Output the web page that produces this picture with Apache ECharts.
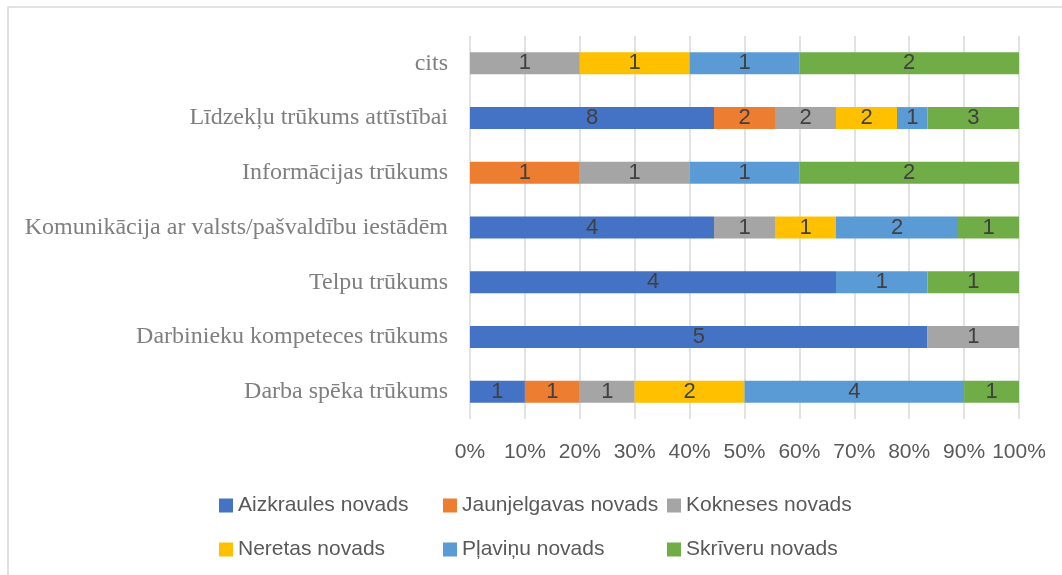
<!DOCTYPE html>
<html>
<head>
<meta charset="utf-8">
<script src="https://cdn.jsdelivr.net/npm/echarts@6/dist/echarts.min.js"></script>
<style>
  html, body { margin: 0; padding: 0; background: #fff; }
  #chart { width: 1062px; height: 575px; }
</style>
</head>
<body>
<div id="chart"></div>
<script>
// categories, bottom to top
const categories = [
  'Darba spēka trūkums',
  'Darbinieku kompeteces trūkums',
  'Telpu trūkums',
  'Komunikācija ar valsts/pašvaldību iestādēm',
  'Informācijas trūkums',
  'Līdzekļu trūkums attīstībai',
  'cits'
];

// counts per novads (same order as categories)
const aizkraules = [1, 5, 4, 4, 0, 8, 0];
const jaunjelgavas = [1, 0, 0, 0, 1, 2, 0];
const kokneses = [1, 1, 0, 1, 1, 2, 1];
const neretas = [2, 0, 0, 1, 0, 2, 1];
const plavinu = [4, 0, 1, 2, 1, 1, 1];
const skriveru = [1, 0, 1, 1, 2, 3, 2];

const seriesNames = ['Aizkraules novads', 'Jaunjelgavas novads', 'Kokneses novads',
  'Neretas novads', 'Pļaviņu novads', 'Skrīveru novads'];
const seriesCounts = [aizkraules, jaunjelgavas, kokneses, neretas, plavinu, skriveru];
const colors = ['#4472C4', '#ED7D31', '#A5A5A5', '#FFC000', '#5B9BD5', '#70AD47'];

const xTicks = [0, 10, 20, 30, 40, 50, 60, 70, 80, 90, 100];

// row totals for the 100% stack
const totals = categories.map((c, i) => seriesCounts.reduce((s, arr) => s + arr[i], 0));

const chart = echarts.init(document.getElementById('chart'));

const series = seriesNames.map((name, k) => ({
  name: name,
  type: 'bar',
  stack: 'total',
  barWidth: 22,
  itemStyle: { color: colors[k] },
  label: {
    show: true,
    position: 'inside',
    color: '#404040',
    fontFamily: 'Liberation Sans',
    fontSize: 22,
    formatter: (p) => {
      const n = seriesCounts[k][p.dataIndex];
      return n ? String(n) : '';
    }
  },
  data: seriesCounts[k].map((n, i) => n / totals[i] * 100)
}));

// legend laid out as 3 columns x 2 rows
const legendCols = [214, 438, 662];
const legends = legendCols.map((x, c) => ({
  data: [seriesNames[c], seriesNames[c + 3]],
  orient: 'vertical',
  left: x,
  top: 490,
  icon: 'rect',
  itemWidth: 14,
  itemHeight: 14,
  itemGap: 23,
  textStyle: {
    fontFamily: 'Liberation Sans',
    fontSize: 21,
    color: '#595959'
  }
}));

chart.setOption({
  animation: false,
  color: colors,
  graphic: [{
    type: 'rect',
    shape: { x: 8, y: 7, width: 1100, height: 620 },
    style: { fill: 'none', stroke: '#d9d9d9', lineWidth: 1.5 },
    silent: true
  }],
  grid: { left: 470, right: 43, top: 36, bottom: 156 },
  legend: legends,
  xAxis: {
    type: 'value',
    min: xTicks[0],
    max: xTicks[xTicks.length - 1],
    interval: 10,
    axisLine: { show: false },
    axisTick: { show: false },
    splitLine: { show: true, lineStyle: { color: '#d9d9d9', width: 1.5 } },
    axisLabel: {
      margin: 23,
      fontFamily: 'Liberation Sans',
      fontSize: 21,
      color: '#595959',
      formatter: '{value}%'
    }
  },
  yAxis: {
    type: 'category',
    data: categories,
    axisLine: { show: false },
    axisTick: { show: false },
    axisLabel: {
      margin: 22,
      fontFamily: 'Liberation Serif',
      fontSize: 24,
      color: '#7f7f7f'
    }
  },
  series: series
});
</script>
</body>
</html>
